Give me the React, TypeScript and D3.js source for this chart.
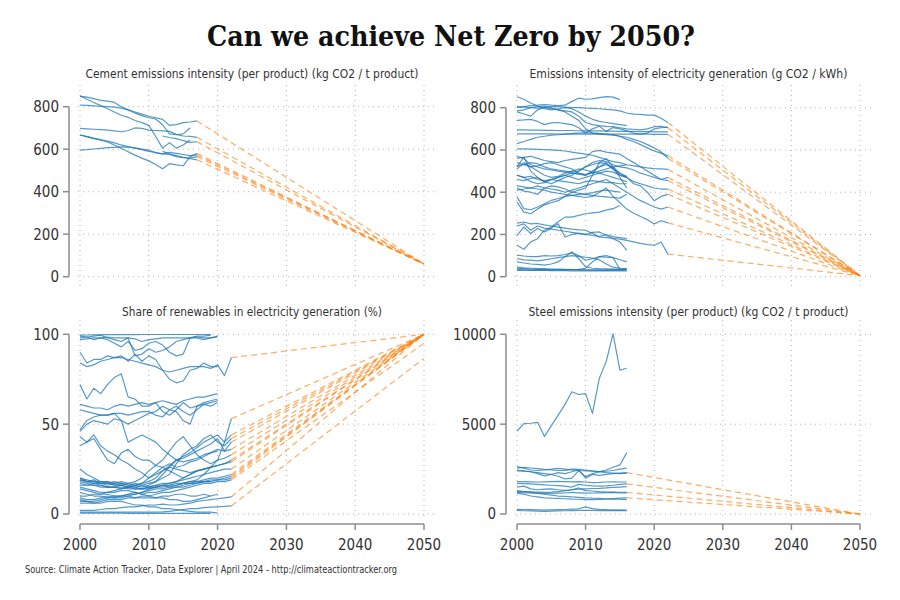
import React from "react";
import * as d3 from "d3";

// ---------- DATA ----------
const yearTicks = [2000, 2010, 2020, 2030, 2040, 2050];
const cementTicks = [0, 200, 400, 600, 800];
const electricityTicks = [0, 200, 400, 600, 800];
const renewablesTicks = [0, 50, 100];
const steelTicks = [0, 5000, 10000];

const mainTitle = "Can we achieve Net Zero by 2050?";
const cementTitle = "Cement emissions intensity (per product) (kg CO2 / t product)";
const electricityTitle = "Emissions intensity of electricity generation (g CO2 / kWh)";
const renewablesTitle = "Share of renewables in electricity generation (%)";
const steelTitle = "Steel emissions intensity (per product) (kg CO2 / t product)";
const sourceText = "Source: Climate Action Tracker, Data Explorer | April 2024 - http://climateactiontracker.org";

type Series = { start: number; values: number[]; proj?: boolean; target?: number };

const cementTarget = 60;
const cementSeries: Series[] = [
  { start: 2000, values: [850, 845, 838, 830, 826, 820, 800, 785, 770, 758, 748, 742, 715, 672, 668, 672, 700] },
  { start: 2000, values: [808, 806, 804, 802, 800, 798, 793, 785, 775, 765, 755, 748, 740, 712, 716, 725, 728, 733], proj: true },
  { start: 2000, values: [850, 835, 820, 805, 790, 775, 760, 750, 735, 725, 712, 660, 605, 630, 605, 620, 643] },
  { start: 2000, values: [698, 696, 694, 692, 690, 686, 682, 688, 700, 698, 690, 688, 686, 684, 670, 662, 660, 656], proj: true },
  { start: 2000, values: [667, 658, 650, 642, 634, 620, 603, 588, 572, 558, 545, 528, 508, 532, 526, 522, 565, 580], proj: true },
  { start: 2000, values: [667, 660, 652, 645, 638, 630, 620, 612, 605, 598, 590, 585, 578, 585, 580, 575, 570, 573], proj: true },
  { start: 2000, values: [596, 598, 601, 604, 607, 609, 611, 610, 606, 600, 596, 582, 578, 575, 565, 560, 558, 565], proj: true },
  { start: 2012, values: [662, 655, 650, 640, 632, 635], proj: true },
  { start: 2012, values: [590, 578, 570, 562, 555, 550], proj: true },
];

const electricityTarget = 5;
const electricitySeries: Series[] = [
  { start: 2000, values: [805, 803, 800, 798, 800, 805, 805, 803, 800, 800, 798, 797, 795, 792, 790, 785, 775, 770, 768, 765, 765, 750, 730], proj: true },
  { start: 2000, values: [800, 805, 810, 812, 815, 812, 810, 812, 830, 845, 840, 842, 848, 852, 850, 838] },
  { start: 2000, values: [852, 840, 822, 808, 795, 790, 795, 800, 795, 780, 760, 745, 735, 730, 725, 720, 715] },
  { start: 2000, values: [780, 770, 760, 790, 800, 795, 790, 785, 780, 760, 730, 720, 715, 712, 710, 705, 700, 698, 695, 700, 710, 712, 705], proj: true },
  { start: 2000, values: [695, 695, 694, 694, 693, 693, 692, 692, 692, 691, 690, 690, 690, 689, 689, 688, 688, 688, 687, 687, 686, 686, 686] },
  { start: 2000, values: [676, 676, 676, 676, 676, 676, 675, 675, 675, 675, 675, 675, 675, 675, 675, 675, 675, 675, 675, 675, 674, 674, 674], proj: true },
  { start: 2000, values: [740, 742, 745, 735, 720, 728, 730, 725, 720, 705, 680, 700, 712, 688, 706, 700, 690, 680, 675, 680, 700, 705, 708] },
  { start: 2000, values: [630, 640, 650, 660, 665, 670, 672, 675, 678, 680, 682, 680, 678, 675, 672, 665, 650, 640, 625, 610, 595, 585, 572], proj: true },
  { start: 2000, values: [785, 790, 800, 805, 806, 800, 790, 780, 760, 740, 700, 680, 675, 672, 670, 665, 660, 650, 640, 625, 610, 590, 560], proj: true },
  { start: 2000, values: [605, 605, 604, 603, 602, 600, 598, 595, 590, 585, 580, 575, 565, 555, 545, 540, 530, 525, 520, 515, 512, 510, 508], proj: true },
  { start: 2000, values: [570, 560, 530, 520, 510, 505, 500, 495, 490, 488, 485, 490, 500, 510, 520, 525, 530] },
  { start: 2000, values: [560, 565, 570, 560, 550, 545, 540, 550, 555, 560, 565, 592, 598, 590, 585, 580, 560, 540, 520, 500, 480, 460, 470], proj: true },
  { start: 2000, values: [525, 530, 540, 535, 520, 510, 505, 500, 495, 500, 520, 540, 550, 545, 530, 520, 515, 505, 490, 480, 470, 460, 455], proj: true },
  { start: 2000, values: [510, 540, 520, 500, 480, 470, 475, 490, 500, 510, 505, 495, 490, 500, 495, 480, 470, 450, 440, 430, 420, 415, 415], proj: true },
  { start: 2000, values: [480, 470, 475, 460, 455, 460, 470, 480, 490, 485, 480, 495, 520, 540, 510, 490, 470, 440, 430, 400, 360, 380, 390], proj: true },
  { start: 2000, values: [460, 455, 465, 470, 450, 440, 455, 470, 480, 500, 520, 530, 540, 535, 510, 480, 470] },
  { start: 2000, values: [540, 530, 520, 525, 535, 540, 530, 520, 510, 490, 480, 500, 520, 530, 520, 490, 475] },
  { start: 2000, values: [430, 425, 420, 430, 420, 415, 410, 400, 410, 420, 430, 440, 450, 460, 440, 420, 400, 380, 360, 345, 330, 320, 330], proj: true },
  { start: 2000, values: [410, 415, 420, 415, 410, 400, 395, 390, 385, 380, 375, 380, 400, 420, 380, 350, 320, 300, 285, 270, 250, 265, 255], proj: true },
  { start: 2000, values: [420, 405, 400, 390, 420, 430, 425, 415, 400, 395, 390, 385, 380, 378, 375, 372, 390] },
  { start: 2000, values: [520, 565, 500, 470, 450, 460, 470, 480, 470, 460, 470, 480, 490, 480, 470, 460, 450] },
  { start: 2000, values: [480, 470, 450, 440, 445, 460, 455, 450, 445, 440, 450, 455, 450, 445, 445, 440, 440] },
  { start: 2000, values: [378, 322, 317, 330, 345, 361, 370, 380, 385, 390, 392, 398, 405, 410, 405, 400] },
  { start: 2000, values: [353, 306, 298, 320, 340, 350, 360, 380, 400, 410, 420, 480, 540, 560, 520, 470, 420] },
  { start: 2000, values: [254, 259, 250, 252, 245, 240, 235, 230, 225, 222, 220, 205, 188, 185, 182, 178, 172, 165, 158, 152, 149, 164, 107], proj: true },
  { start: 2000, values: [196, 235, 204, 228, 212, 230, 251, 188, 200, 205, 200, 210, 212, 195, 180, 165, 125] },
  { start: 2000, values: [149, 130, 165, 180, 220, 235, 260, 282, 282, 290, 298, 302, 306, 315, 322, 337] },
  { start: 2000, values: [240, 250, 220, 240, 230, 225, 220, 215, 210, 205, 200, 195, 190, 200, 190, 185, 180] },
  { start: 2000, values: [102, 98, 95, 95, 100, 98, 100, 105, 113, 100, 78, 85, 95, 92, 90, 80, 70] },
  { start: 2000, values: [86, 80, 78, 75, 80, 85, 90, 95, 100, 96, 92, 88, 80, 60, 45, 40, 38] },
  { start: 2000, values: [70, 65, 60, 58, 55, 60, 70, 95, 117, 86, 47, 40, 38, 37, 36, 35, 35] },
  { start: 2000, values: [40, 38, 36, 35, 34, 33, 33, 32, 32, 31, 31, 30, 30, 30, 30, 30, 30] },
  { start: 2000, values: [35, 33, 31, 30, 30, 29, 29, 29, 28, 28, 28, 28, 28, 28, 28, 27, 27] },
  { start: 2000, values: [45, 42, 40, 38, 38, 36, 36, 35, 34, 34, 33, 33, 32, 33, 34, 35, 36] },
  { start: 2000, values: [30, 30, 30, 31, 31, 32, 33, 33, 34, 35, 40, 70, 95, 100, 90, 35] },
];

const renewablesSeries: Series[] = [
  { start: 2000, values: [99.5, 99.6, 99.7, 99.7, 99.8, 99.8, 99.8, 99.8, 99.8, 99.9, 99.9, 99.9, 99.9, 99.9, 99.9, 99.9, 99.9, 99.9, 99.9, 99.9] },
  { start: 2000, values: [97, 97.5, 98, 98, 98.5, 98, 98, 98, 97.5, 96, 97, 97.5, 98, 98, 98, 98, 98, 98.5, 98, 98, 98.5] },
  { start: 2000, values: [99, 98.5, 97, 98, 97, 95, 93, 96, 91, 92, 95, 96, 94, 90, 88, 89, 98, 98, 97, 98, 99] },
  { start: 2000, values: [98, 98.5, 99, 99.5, 98, 97, 96, 98, 88, 89, 92, 90, 91, 93, 96, 97, 98, 99, 99, 99.5] },
  { start: 2000, values: [84, 82, 83, 85, 86, 87, 87, 86, 85, 84, 83, 82, 80, 79, 80, 81, 82, 82, 82, 81, 83, 77, 87], proj: true, target: 100 },
  { start: 2000, values: [90, 84, 86, 86, 88, 87, 88, 85, 89, 85, 88, 86, 80, 75, 73, 74, 80, 81, 84, 82, 82] },
  { start: 2000, values: [72, 64, 70, 67, 72, 76, 78, 65, 64, 60, 60, 62, 57, 55, 58, 62, 59, 60, 62, 63, 64] },
  { start: 2000, values: [61, 60, 59, 59, 58, 60, 61, 60, 61, 62, 61, 62, 63, 62, 61, 63, 64, 65, 65, 66, 67] },
  { start: 2000, values: [58, 57, 56, 55, 55, 56, 56, 55, 56, 57, 57, 55, 54, 58, 60, 57, 55, 58, 61, 62, 63] },
  { start: 2000, values: [47, 52, 54, 55, 55, 56, 52, 50, 52, 54, 56, 57, 60, 58, 57, 52, 50, 60, 61, 60, 62] },
  { start: 2000, values: [46, 50, 52, 51, 50, 53, 52, 40, 42, 44, 42, 40, 36, 33, 30, 29, 30, 31, 33, 34, 35] },
  { start: 2000, values: [43, 40, 44, 38, 35, 33, 30, 28, 25, 23, 20, 22, 24, 26, 25, 24, 23, 24, 25, 26, 27, 28, 30], proj: true, target: 100 },
  { start: 2000, values: [38, 40, 42, 36, 30, 28, 34, 36, 32, 30, 30, 27, 26, 24, 22, 20, 22, 24, 25, 26, 27] },
  { start: 2000, values: [25, 22, 20, 18, 18, 17, 16, 17, 18, 20, 24, 27, 30, 35, 40, 43, 38, 33, 30, 28, 30, 40, 53], proj: true, target: 100 },
  { start: 2000, values: [19, 18, 17, 17, 16, 17, 18, 17, 16, 15, 16, 18, 22, 26, 30, 32, 34, 37, 40, 42, 44, 40, 44], proj: true, target: 100 },
  { start: 2000, values: [20, 18, 19, 17, 18, 16, 17, 16, 15, 16, 17, 18, 20, 22, 28, 33, 36, 38, 42, 44, 40, 38, 42], proj: true, target: 100 },
  { start: 2000, values: [17, 16, 17, 16, 15, 15, 16, 15, 16, 17, 18, 20, 24, 27, 30, 31, 33, 35, 37, 39, 42, 35, 40], proj: true, target: 100 },
  { start: 2000, values: [15, 14, 13, 12, 12, 13, 14, 15, 16, 17, 20, 23, 26, 28, 26, 27, 29, 30, 32, 34, 36, 35, 36], proj: true, target: 100 },
  { start: 2000, values: [9, 8, 8, 9, 10, 9, 9, 10, 11, 12, 13, 14, 14, 15, 16, 17, 18, 19, 22, 26, 30, 31, 33], proj: true, target: 100 },
  { start: 2000, values: [8, 7, 7, 8, 9, 10, 10, 11, 11, 12, 14, 15, 16, 17, 18, 20, 22, 24, 25, 26, 27, 28, 29], proj: true, target: 100 },
  { start: 2000, values: [18, 17, 16, 16, 15, 15, 14, 15, 14, 14, 15, 16, 17, 17, 18, 19, 20, 21, 22, 23, 24, 25, 25], proj: true, target: 100 },
  { start: 2000, values: [20, 19, 18, 18, 17, 16, 16, 15, 15, 14, 15, 15, 16, 16, 17, 17, 18, 18, 19, 20, 20, 21, 22], proj: true, target: 100 },
  { start: 2000, values: [16, 16, 16, 15, 15, 15, 15, 14, 14, 14, 14, 15, 15, 16, 16, 17, 17, 18, 18, 19, 19, 20, 21], proj: true, target: 100 },
  { start: 2000, values: [10, 10, 11, 11, 12, 12, 13, 13, 12, 11, 12, 12, 13, 14, 15, 15, 16, 17, 18, 18, 19, 19, 20], proj: true, target: 100 },
  { start: 2000, values: [7, 7, 6, 7, 8, 8, 8, 9, 9, 10, 10, 11, 12, 12, 13, 14, 15, 16, 17, 17, 18, 18, 19], proj: true, target: 95 },
  { start: 2000, values: [2, 2, 2, 2.5, 3, 3, 3.5, 4, 4, 4.5, 5, 5, 5.5, 5, 5, 5.5, 6, 7, 7.5, 8, 8.5, 9, 9.5], proj: true, target: 100 },
  { start: 2000, values: [1, 1, 1, 1, 1, 1, 1, 1, 1, 1, 1, 1, 1.2, 1.5, 2, 2.5, 3, 3, 3.5, 3.8, 4, 4.2, 4.5], proj: true, target: 86.6 },
  { start: 2000, values: [0.5, 0.5, 0.5, 0.5, 0.5, 0.5, 0.5, 0.4, 0.4, 0.4, 0.4, 0.4, 0.4, 0.3, 0.3, 0.3, 0.3, 0.3, 0.3, 0.3] },
  { start: 2000, values: [12, 11, 10, 10, 9, 9, 10, 11, 12, 11, 10, 9, 9, 8, 8, 7, 7, 8, 9, 10, 11] },
  { start: 2000, values: [14, 13, 12, 11, 11, 10, 10, 10, 9, 9, 9, 9, 10, 10, 11, 11, 10, 10, 11, 10] },
  { start: 2000, values: [6, 6, 6, 6, 7, 7, 7, 6, 5, 5, 4, 4, 3, 3, 2.5, 2, 1.5, 1, 1, 1, 0.5] },
  { start: 2000, values: [19, 18, 18, 17, 17, 18, 17, 16, 17, 16, 15, 16, 16, 15, 15, 16, 17, 17, 18, 18] },
];

const steelTarget = 0;
const steelSeries: Series[] = [
  { start: 2000, values: [4620, 5030, 5050, 5100, 4320, 4900, 5500, 6100, 6800, 6650, 6700, 5600, 7550, 8480, 10020, 8000, 8110] },
  { start: 2000, values: [2640, 2550, 2450, 2420, 2450, 2500, 2540, 2500, 2450, 2420, 2400, 2380, 2360, 2450, 2600, 2730, 3415] },
  { start: 2000, values: [2550, 2600, 2560, 2520, 2480, 2450, 2420, 2430, 2500, 2480, 2450, 2400, 2350, 2380, 2420, 2500, 2550] },
  { start: 2000, values: [2450, 2400, 2350, 2250, 2120, 2200, 2300, 2250, 2350, 2450, 1990, 2200, 2150, 2200, 2250, 2280, 2300], proj: true },
  { start: 2000, values: [2400, 2380, 2350, 2300, 2250, 2200, 2100, 1950, 2000, 2410, 2080, 2250, 2350, 2300, 2280, 2250, 2280] },
  { start: 2000, values: [1800, 1800, 1790, 1780, 1790, 1800, 1810, 1800, 1790, 1800, 1780, 1750, 1760, 1780, 1790, 1780, 1780] },
  { start: 2000, values: [1700, 1690, 1680, 1650, 1620, 1600, 1580, 1550, 1500, 1650, 1600, 1560, 1550, 1570, 1600, 1650, 1680], proj: true },
  { start: 2000, values: [1500, 1550, 1400, 1350, 1380, 1400, 1350, 1320, 1350, 1380, 1400, 1420, 1430, 1450, 1480, 1500, 1520] },
  { start: 2000, values: [1250, 1240, 1230, 1220, 1200, 1220, 1250, 1280, 1350, 1450, 1300, 1280, 1250, 1230, 1220, 1210, 1200], proj: true },
  { start: 2000, values: [1200, 1180, 1170, 1160, 1150, 1150, 1160, 1170, 1200, 1180, 1160, 1170, 1180, 1190, 1200, 1180, 1170] },
  { start: 2000, values: [1150, 1100, 1000, 950, 900, 880, 870, 850, 830, 820, 800, 800, 810, 830, 860, 880, 900], proj: true },
  { start: 2000, values: [1300, 1250, 1200, 1150, 1100, 1050, 1000, 980, 950, 930, 900, 880, 870, 850, 830, 820, 800] },
  { start: 2000, values: [260, 250, 240, 230, 220, 230, 240, 250, 270, 290, 400, 300, 260, 240, 230, 225, 223] },
  { start: 2000, values: [200, 180, 170, 160, 150, 160, 170, 180, 190, 200, 210, 200, 190, 185, 190, 190, 190] },
];

// ---------- STYLE ----------
const BLUE = "#1f77b4";
const ORANGE = "#ff7f0e";
const GRID = "#b5b5b5";
const AXIS = "#8c8c8c";
const TEXT = "#333333";
const SANS = "'Liberation Sans Narrow', 'DejaVu Sans Condensed', 'Roboto', sans-serif";

type PanelProps = {
  title: string;
  titleWidth: number;
  titleY: number;
  series: Series[];
  target?: number;
  ticks: number[];
  yMax: number;
  xRange: [number, number];
  yRange: [number, number];
  gridTop: number;
  gridBottom: number;
  gridRight: number;
  axisX: number;
  showX: boolean;
  xAxisY?: number;
};

function Panel(p: PanelProps) {
  const x = d3.scaleLinear().domain([2000, 2050]).range(p.xRange);
  const y = d3.scaleLinear().domain([0, p.yMax]).range(p.yRange);
  const line = d3
    .line<[number, number]>()
    .x((d) => x(d[0]))
    .y((d) => y(d[1]));
  const pts = (s: Series): [number, number][] => s.values.map((v, i) => [s.start + i, v]);
  const cx = (p.xRange[0] + p.xRange[1]) / 2;
  return (
    <g>
      {yearTicks.map((t) => (
        <line key={"gx" + t} x1={x(t)} x2={x(t)} y1={p.gridTop} y2={p.gridBottom} stroke={GRID} strokeWidth={1} strokeDasharray="1,4" />
      ))}
      {p.ticks.map((t) => (
        <line key={"gy" + t} x1={p.xRange[0] - 2} x2={p.gridRight} y1={y(t)} y2={y(t)} stroke={GRID} strokeWidth={1} strokeDasharray="1,4" />
      ))}
      {p.series
        .filter((s) => s.proj)
        .map((s, i) => {
          const last = s.start + s.values.length - 1;
          const tgt = s.target !== undefined ? s.target : (p.target as number);
          return (
            <path
              key={"p" + i}
              d={line([[last, s.values[s.values.length - 1]], [2050, tgt]]) || ""}
              fill="none"
              stroke={ORANGE}
              strokeOpacity={0.65}
              strokeWidth={1.2}
              strokeDasharray="6,4"
            />
          );
        })}
      {p.series.map((s, i) => (
        <path key={"s" + i} d={line(pts(s)) || ""} fill="none" stroke={BLUE} strokeOpacity={0.75} strokeWidth={1.2} strokeLinejoin="round" />
      ))}
      <line x1={p.axisX} x2={p.axisX} y1={y(p.ticks[p.ticks.length - 1])} y2={y(0)} stroke={AXIS} strokeWidth={1.5} />
      {p.ticks.map((t) => (
        <g key={"yt" + t}>
          <line x1={p.axisX - 6} x2={p.axisX} y1={y(t)} y2={y(t)} stroke={AXIS} strokeWidth={1.5} />
          <text x={p.axisX - 10} y={y(t)} dy="0.36em" textAnchor="end" fontFamily={SANS} fontSize={15} fill={TEXT}>
            {t}
          </text>
        </g>
      ))}
      {p.showX && p.xAxisY !== undefined && (
        <g>
          <line x1={x(2000)} x2={x(2050)} y1={p.xAxisY} y2={p.xAxisY} stroke={AXIS} strokeWidth={1.5} />
          {yearTicks.map((t) => (
            <g key={"xt" + t}>
              <line x1={x(t)} x2={x(t)} y1={p.xAxisY} y2={(p.xAxisY as number) + 6} stroke={AXIS} strokeWidth={1.5} />
              <text x={x(t)} y={(p.xAxisY as number) + 26} textAnchor="middle" fontFamily={SANS} fontSize={15} fill={TEXT}>
                {t}
              </text>
            </g>
          ))}
        </g>
      )}
      <text
        x={cx}
        y={p.titleY}
        textAnchor="middle"
        fontFamily={SANS}
        fontSize={13}
        fill={TEXT}
        textLength={p.titleWidth}
        lengthAdjust="spacingAndGlyphs"
      >
        {p.title}
      </text>
    </g>
  );
}

export default function App() {
  return (
    <svg width={900} height={600} style={{ position: "absolute", left: 0, top: 0, background: "#fff" }}>
      <rect x={0} y={0} width={900} height={600} fill="#fff" />
      <text
        x={451}
        y={46}
        textAnchor="middle"
        fontFamily="'DejaVu Serif', 'Liberation Serif', serif"
        fontWeight="bold"
        fontSize={27}
        fill="#111"
        textLength={488}
        lengthAdjust="spacingAndGlyphs"
      >
        {mainTitle}
      </text>
      <Panel
        title={cementTitle}
        titleWidth={333}
        titleY={78}
        series={cementSeries}
        target={cementTarget}
        ticks={cementTicks}
        yMax={800}
        xRange={[80, 424]}
        yRange={[276.7, 106.7]}
        gridTop={85}
        gridBottom={287}
        gridRight={435}
        axisX={69}
        showX={false}
      />
      <Panel
        title={electricityTitle}
        titleWidth={318}
        titleY={78}
        series={electricitySeries}
        target={electricityTarget}
        ticks={electricityTicks}
        yMax={800}
        xRange={[517, 860]}
        yRange={[276.7, 107.7]}
        gridTop={85}
        gridBottom={287}
        gridRight={873}
        axisX={506}
        showX={false}
      />
      <Panel
        title={renewablesTitle}
        titleWidth={260}
        titleY={316}
        series={renewablesSeries}
        ticks={renewablesTicks}
        yMax={100}
        xRange={[80, 424]}
        yRange={[514, 334.3]}
        gridTop={320}
        gridBottom={518}
        gridRight={435}
        axisX={69}
        showX={true}
        xAxisY={524}
      />
      <Panel
        title={steelTitle}
        titleWidth={320}
        titleY={316}
        series={steelSeries}
        target={steelTarget}
        ticks={steelTicks}
        yMax={10000}
        xRange={[517, 860]}
        yRange={[514, 334.3]}
        gridTop={320}
        gridBottom={518}
        gridRight={873}
        axisX={506}
        showX={true}
        xAxisY={524}
      />
      <text x={25} y={573} fontFamily={SANS} fontSize={11} fill={TEXT} textLength={372} lengthAdjust="spacingAndGlyphs">
        {sourceText}
      </text>
    </svg>
  );
}
